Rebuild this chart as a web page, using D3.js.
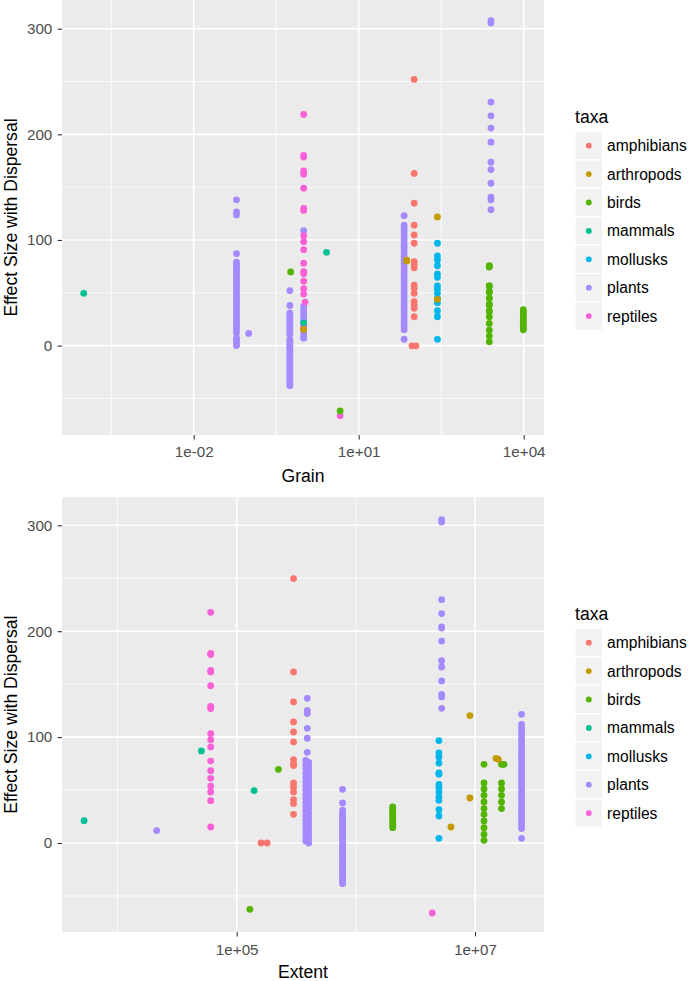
<!DOCTYPE html>
<html><head><meta charset="utf-8">
<script src="https://cdn.jsdelivr.net/npm/d3@7"></script>
<style>
body{margin:0;background:#fff}
svg{display:block;font-family:"Liberation Sans",Arial,sans-serif}
</style>
</head><body>
<svg id="chart" width="689" height="981"></svg>
<script>
// ---------- data ----------
const taxa = ["amphibians","arthropods","birds","mammals","mollusks","plants","reptiles"];
const taxaColors = ["#F8766D","#C49A00","#53B400","#00C094","#00B6EB","#A58AFF","#FB61D7"];

const yTicks = [0, 100, 200, 300];
const yMinor = [-50, 50, 150, 250];

const grainTicks = [1e-2, 1e1, 1e4];
const grainTickLabels = ["1e-02", "1e+01", "1e+04"];
const grainMinor = [Math.pow(10, -3.5), Math.pow(10, -0.5), Math.pow(10, 2.5)];

const extentTicks = [1e5, 1e7];
const extentTickLabels = ["1e+05", "1e+07"];
const extentMinor = [1e4, 1e6];

// Grain panel: groups of points sharing taxa and x value
const grainPoints = [
  {taxa:"plants", x:0.06, y:[138,126.5,123.6,87,79,77,75,73,71,69,67,65,62,60,57,55,53,50,48,45,43,40,38,36,33,30,28,25,22,20,18,15,12,7,5,2,0]},
  {taxa:"plants", x:0.1, y:[11.5]},
  {taxa:"plants", x:0.56, y:[52,38,31,29,27,25,23,21,19,17,15,13,11,6,4,2,0,-2,-4,-6,-8,-10,-12,-14,-16,-18,-20,-22,-24,-26,-28,-30,-32,-34,-36,-38]},
  {taxa:"plants", x:1, y:[108.8,37,34,31,28,25,22,19,16,13,10,8,7]},
  {taxa:"plants", x:67, y:[123,114,111,108,105,102,99,96,93,90,87,84,81,78,75,72,69,66,63,60,57,54,51,48,45,42,39,36,33,30,27,24,21,18,15,6]},
  {taxa:"plants", x:2540, y:[307.6,305.4,230.5,217.5,205.9,192.6,173.6,166.6,153.7,140.5,138,128.7]},
  {taxa:"reptiles", x:1, y:[218.8,180,178.5,165.4,162.3,149,130,128,104,98.4,90.8,78,70,68,61,54,48.8,17]},
  {taxa:"reptiles", x:1.06, y:[41.2]},
  {taxa:"reptiles", x:4.6, y:[-66.5]},
  {taxa:"mammals", x:0.0001, y:[49.5]},
  {taxa:"mammals", x:1, y:[21.6]},
  {taxa:"mammals", x:2.6, y:[88.3]},
  {taxa:"birds", x:0.58, y:[69.7]},
  {taxa:"birds", x:4.6, y:[-61.8]},
  {taxa:"birds", x:2370, y:[75.6,75,74.3,56.7,56,51,50.5,45,44.5,39,38.5,33,32.5,27.3,21,14.7,9,3.6]},
  {taxa:"birds", x:9840, y:[34,32,30,28,26,24,22,20,18,16,15]},
  {taxa:"amphibians", x:102, y:[252,163,134.8,114,104.7,96.9,79.4,76.3,73.7,57.3,54.2,49.5,41.5,38.4,35.3,27.3]},
  {taxa:"amphibians", x:93, y:[-0.2]},
  {taxa:"amphibians", x:110, y:[-0.2]},
  {taxa:"mollusks", x:270, y:[96.9,84.8,81,75.6,67.8,64.6,56.4,53.3,49.5,44.7,40.6,33,27.3,5.9]},
  {taxa:"arthropods", x:1, y:[15.3]},
  {taxa:"arthropods", x:75, y:[80,81]},
  {taxa:"arthropods", x:270, y:[121.8,43.8]}
];

// Extent panel
const extentPoints = [
  {taxa:"plants", x:21300, y:[11.7]},
  {taxa:"plants", x:391000, y:[136.6,125.3,122.2,108.3,98.9,85.6]},
  {taxa:"plants", x:380000, y:[78,74,70,66,62,58,54,50,46,42,38,34,30,26,22,18,14,10,6,2]},
  {taxa:"plants", x:402000, y:[76,72,68,64,60,56,52,48,44,40,36,32,28,24,20,16,12,8,4,0]},
  {taxa:"plants", x:774000, y:[50.7,37.8,31,29,27,25,23,21,19,17,15,13,11,9,7,5,3,1,-1,-3,-5,-7,-9,-11,-13,-15,-17,-19,-21,-23,-25,-27,-29,-31,-33,-35,-37,-38.4]},
  {taxa:"plants", x:5250000, y:[305.4,303,229.8,216.6,204,203,190.7,172.2,166.2,153,140.4,137.9,127.2]},
  {taxa:"plants", x:24600000, y:[121.5,112,109,106,103,100,97,94,91,88,85,82,79,76,73,70,67,64,61,58,55,52,49,46,43,40,37,34,31,28,25,22,19,16,13.6,4.4]},
  {taxa:"reptiles", x:60500, y:[217.8,179,178,163,161.5,148.6,129,127,103.3,97.6,90.7,77.4,68.3,61.1,53.8,48.2,40,15.1]},
  {taxa:"reptiles", x:4380000, y:[-66.1]},
  {taxa:"mammals", x:5240, y:[21.1]},
  {taxa:"mammals", x:50500, y:[86.9]},
  {taxa:"mammals", x:140000, y:[49.5]},
  {taxa:"birds", x:129000, y:[-62.6]},
  {taxa:"birds", x:224000, y:[69.6]},
  {taxa:"birds", x:2040000, y:[34,32,30,28,26,24,22,20,18,16,14.5]},
  {taxa:"birds", x:11900000, y:[74.3,56.7,51,45,38.7,32.5,27.1,20.8,14.5,8.2,2.5]},
  {taxa:"birds", x:16700000, y:[74.3,56.7,51,45,38.7,32.5]},
  {taxa:"birds", x:17500000, y:[74.3]},
  {taxa:"amphibians", x:300000, y:[249.7,161.5,133.2,114.3,104.8,95.4,78.8,75,73.1,56.7,52.9,48.2,41,37.2,27.1]},
  {taxa:"amphibians", x:160000, y:[0]},
  {taxa:"amphibians", x:180000, y:[0]},
  {taxa:"mollusks", x:4980000, y:[96.7,85,81.2,75.5,66.1,65,55.4,52.3,48.2,43.4,40.3,31.5,25.5,4.4]},
  {taxa:"arthropods", x:6280000, y:[15.1]},
  {taxa:"arthropods", x:9060000, y:[120.3,42.5]},
  {taxa:"arthropods", x:15000000, y:[80]},
  {taxa:"arthropods", x:15700000, y:[79]}
];

// ---------- drawing ----------
const svg = d3.select("#chart");
const color = d3.scaleOrdinal().domain(taxa).range(taxaColors);
const FONT_TICK = 15.2, FONT_LEGEND = 15.6, FONT_TITLE = 17.6;

function drawPanel(o) {
  const g = svg.append("g");
  const left = 62, right = 544;
  const x = d3.scaleLog().domain(o.xRef).range(o.xPix);
  const y = d3.scaleLinear().domain([0, 300]).range(o.yPix);

  g.append("rect").attr("x", left).attr("y", o.top).attr("width", right - left)
    .attr("height", o.bottom - o.top).attr("fill", "#EBEBEB");

  const clipId = "clip" + o.id;
  svg.append("clipPath").attr("id", clipId).append("rect")
    .attr("x", left).attr("y", o.top).attr("width", right - left).attr("height", o.bottom - o.top);

  const grid = g.append("g").attr("clip-path", `url(#${clipId})`);
  grid.selectAll(".ymin").data(yMinor).join("line")
    .attr("x1", left).attr("x2", right).attr("y1", d => y(d)).attr("y2", d => y(d))
    .attr("stroke", "#fff").attr("stroke-width", 0.8);
  grid.selectAll(".xmin").data(o.minor).join("line").attr("class","xmin")
    .attr("y1", o.top).attr("y2", o.bottom).attr("x1", d => x(d)).attr("x2", d => x(d))
    .attr("stroke", "#fff").attr("stroke-width", 0.8);
  grid.selectAll(".ymaj").data(yTicks).join("line").attr("class","ymaj")
    .attr("x1", left).attr("x2", right).attr("y1", d => y(d)).attr("y2", d => y(d))
    .attr("stroke", "#fff").attr("stroke-width", 1.6);
  grid.selectAll(".xmaj").data(o.ticks).join("line").attr("class","xmaj")
    .attr("y1", o.top).attr("y2", o.bottom).attr("x1", d => x(d)).attr("x2", d => x(d))
    .attr("stroke", "#fff").attr("stroke-width", 1.6);

  const pts = o.data.flatMap(grp => grp.y.map(v => ({taxa: grp.taxa, x: grp.x, y: v})));
  g.append("g").attr("clip-path", `url(#${clipId})`)
    .selectAll("circle").data(pts).join("circle")
    .attr("cx", d => x(d.x)).attr("cy", d => y(d.y)).attr("r", 3.4)
    .attr("fill", d => color(d.taxa));

  // axes
  const xAxis = d3.axisBottom(x).tickValues(o.ticks).tickFormat((d, i) => o.tickLabels[i])
    .tickSize(4.4).tickPadding(o.xPad);
  const xa = g.append("g").attr("transform", `translate(0,${o.bottom})`).call(xAxis);
  const yAxis = d3.axisLeft(y).tickValues(yTicks).tickFormat(d3.format("d"))
    .tickSize(4.4).tickPadding(5.3);
  const ya = g.append("g").attr("transform", `translate(${left},0)`).call(yAxis);
  [xa, ya].forEach(a => {
    a.select(".domain").remove();
    a.selectAll(".tick line").attr("stroke", "#333").attr("stroke-width", 1.1);
    a.selectAll(".tick text").attr("fill", "#4D4D4D").style("font-size", FONT_TICK + "px")
      .style("font-family", '"Liberation Sans",Arial,sans-serif');
  });

  g.append("text").attr("x", 303).attr("y", o.titleY).attr("text-anchor", "middle")
    .style("font-size", FONT_TITLE + "px").attr("fill", "#000").text(o.title);
  g.append("text").attr("transform", `translate(16.5,${(o.top + o.bottom) / 2}) rotate(-90)`)
    .attr("text-anchor", "middle").style("font-size", FONT_TITLE + "px").attr("fill", "#000")
    .text("Effect Size with Dispersal");

  // legend
  const lg = g.append("g").attr("transform", `translate(575,${o.legendTop})`);
  lg.append("text").attr("x", 0).attr("y", -8.5).style("font-size", FONT_TITLE + "px")
    .attr("fill", "#000").text("taxa");
  const keyH = 28.4, keyW = 27.6;
  const items = lg.selectAll(".key").data(taxa).join("g")
    .attr("transform", (d, i) => `translate(0,${i * keyH})`);
  items.append("rect").attr("width", keyW).attr("height", keyH)
    .attr("fill", "#F2F2F2").attr("stroke", "#fff").attr("stroke-width", 1.2);
  items.append("circle").attr("cx", keyW / 2).attr("cy", keyH / 2).attr("r", 2.9)
    .attr("fill", d => color(d));
  items.append("text").attr("x", keyW + 4.5).attr("y", keyH / 2).attr("dy", "0.35em")
    .style("font-size", FONT_LEGEND + "px").attr("fill", "#000").text(d => d);
}

drawPanel({
  id: "grain", top: 0, bottom: 435,
  xRef: [1e-2, 1e4], xPix: [193.7, 523.7], yPix: [345.6, 28.7],
  ticks: grainTicks, tickLabels: grainTickLabels, minor: grainMinor,
  data: grainPoints, title: "Grain", titleY: 481.5, xPad: 6.6, legendTop: 131.5
});
drawPanel({
  id: "extent", top: 497.3, bottom: 932,
  xRef: [1e5, 1e7], xPix: [236.7, 475], yPix: [843, 525.3],
  ticks: extentTicks, tickLabels: extentTickLabels, minor: extentMinor,
  data: extentPoints, title: "Extent", titleY: 977.5, xPad: 7.9, legendTop: 628.5
});
</script>
</body></html>
